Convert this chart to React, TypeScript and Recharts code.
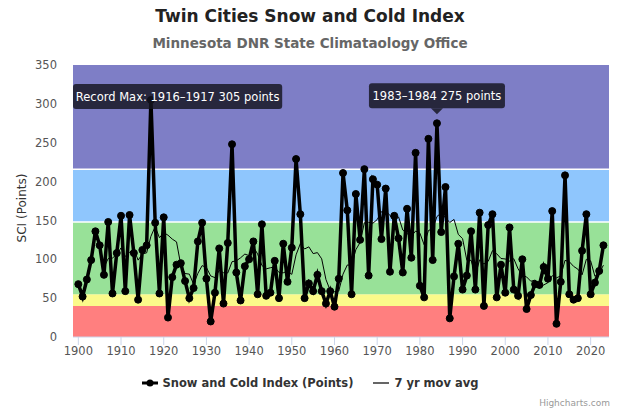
import React from "react";
import {
  ComposedChart,
  Line,
  XAxis,
  YAxis,
  ReferenceArea,
  ReferenceLine,
  ReferenceDot
} from "recharts";

// winter snow and cold index, one value per season (plotted at the ending year), 1900..2023
const sciPoints = [
  68, 52, 74, 99, 136, 118, 80, 148, 56, 108,
  156, 59, 157, 108, 48, 112, 118, 305, 147, 56,
  154, 25, 77, 93, 95, 72, 50, 63, 123, 147,
  75, 20, 57, 114, 43, 121, 248, 83, 47, 91,
  100, 123, 55, 145, 53, 57, 98, 50, 120, 71,
  115, 229, 158, 50, 69, 59, 80, 59, 43, 59,
  39, 75, 211, 163, 55, 184, 125, 216, 79, 203,
  196, 126, 191, 84, 156, 127, 83, 165, 102, 237,
  66, 51, 255, 99, 275, 135, 193, 24, 78, 120,
  61, 79, 136, 61, 160, 40, 144, 158, 51, 93,
  57, 141, 61, 53, 100, 36, 54, 68, 67, 90,
  75, 162, 17, 71, 208, 55, 48, 50, 111, 158,
  55, 70, 85, 118
];

// 7 yr moving average, 1906..2023
const movAvg = [
  89.6, 101.0, 101.6, 106.4,
  114.6, 103.6, 109.1, 113.1, 98.9, 106.9, 108.3, 129.6, 142.1, 127.7,
  134.3, 131.0, 126.0, 122.4, 92.4, 81.7, 80.9, 67.9, 81.9, 91.9,
  89.3, 78.6, 76.4, 85.6, 82.7, 82.4, 96.9, 98.0, 101.9, 106.7,
  104.7, 116.1, 106.7, 92.0, 87.7, 89.1, 90.1, 83.0, 82.6, 84.9,
  80.6, 105.7, 120.1, 113.3, 116.0, 107.3, 108.6, 100.6, 74.0, 59.9,
  58.3, 59.1, 80.9, 92.7, 92.1, 112.3, 121.7, 147.0, 147.6, 146.4,
  151.1, 161.3, 162.3, 156.4, 147.9, 154.7, 137.6, 133.1, 129.7, 136.3,
  133.7, 118.7, 137.0, 139.3, 155.0, 159.7, 153.4, 147.4, 151.3, 132.0,
  126.6, 98.6, 98.7, 79.9, 99.3, 93.9, 97.3, 111.1, 107.1, 101.0,
  100.4, 97.7, 100.7, 87.7, 79.4, 77.3, 71.7, 73.3, 62.7, 66.9,
  70.0, 78.9, 76.1, 78.6, 98.6, 96.9, 90.9, 87.3, 80.0, 100.1,
  97.9, 78.1, 82.4, 92.4
];

const firstYear = 1900;
const movAvgStart = 1906;

const xTicks = [1900, 1910, 1920, 1930, 1940, 1950, 1960, 1970, 1980, 1990, 2000, 2010, 2020];
const yTicks = [0, 50, 100, 150, 200, 250, 300, 350];

// severity bands (lower, upper)
const bandEdges = [0, 40, 55, 148, 216, 350];
const bandColors = ["#ff7f7f", "#fbfa8a", "#98e198", "#8fc6fd", "#7e7ec6"];

const notes = [
  { year: 1917, value: 305, text: "Record Max: 1916\u20131917 305 points" },
  { year: 1984, value: 275, text: "1983\u20131984 275 points" }
];

const data = sciPoints.map((v, i) => {
  const year = firstYear + i;
  const k = year - movAvgStart;
  return { year, sci: v, avg: k >= 0 ? movAvg[k] : null };
});

const FONT = '"Lucida Grande", "Lucida Sans Unicode", "DejaVu Sans", Arial, sans-serif';
const PLOT_LEFT = 73;
const PLOT_TOP = 65;

function NoteLabel(props: any) {
  const { cx, cy, text } = props;
  const w = text.length * 6.1 + 14;
  const h = 25;
  let x = cx - w / 2;
  if (x < PLOT_LEFT) x = PLOT_LEFT;
  let top = cy - h - 15;
  const above = top >= PLOT_TOP;
  if (!above) top = cy - 16;
  const bg = "rgba(20,20,30,0.82)";
  return (
    <g>
      <rect x={x} y={top} width={w} height={h} rx={3} fill={bg} />
      {above && (
        <path d={`M${cx - 6},${top + h} L${cx},${top + h + 6} L${cx + 6},${top + h} Z`} fill={bg} />
      )}
      <text x={x + w / 2} y={top + h / 2 + 4.5} textAnchor="middle" fill="#ffffff" fontSize={11.5} fontFamily={FONT}>
        {text}
      </text>
    </g>
  );
}

export default function App() {
  return (
    <div style={{ position: "absolute", left: 0, top: 0, width: 620, height: 413, background: "#fff", fontFamily: FONT }}>
      <div style={{ position: "absolute", top: 6, width: 620, textAlign: "center", fontSize: 17, fontWeight: "bold", color: "#222" }}>
        Twin Cities Snow and Cold Index
      </div>
      <div style={{ position: "absolute", top: 35, width: 620, textAlign: "center", fontSize: 13.5, fontWeight: "bold", color: "#666" }}>
        Minnesota DNR State Climataology Office
      </div>
      <div
        style={{
          position: "absolute", left: 22, top: 208, transform: "translate(-50%, -50%) rotate(-90deg)",
          fontSize: 12, color: "#333", whiteSpace: "nowrap"
        }}
      >
        SCI (Points)
      </div>

      <ComposedChart width={620} height={413} data={data} margin={{ top: 65, right: 11, bottom: 46, left: 23 }}>
        {bandColors.map((c, i) => (
          <ReferenceArea key={c} y1={bandEdges[i]} y2={bandEdges[i + 1]} fill={c} fillOpacity={1} stroke="none" />
        ))}
        <ReferenceLine y={bandEdges[3]} stroke="#ffffff" strokeWidth={1.5} />
        <ReferenceLine y={bandEdges[4]} stroke="#ffffff" strokeWidth={1.5} />
        <XAxis
          dataKey="year"
          type="number"
          domain={[1898.75, 2024.3]}
          ticks={xTicks}
          allowDataOverflow
          height={30}
          stroke="#ccd6eb"
          tickSize={8}
          tickMargin={2}
          tick={{ fill: "#555", fontSize: 11.5, fontFamily: FONT }}
        />
        <YAxis
          domain={[0, 350]}
          ticks={yTicks}
          width={50}
          axisLine={false}
          tickLine={false}
          tickSize={8}
          tickMargin={8}
          tick={{ fill: "#555", fontSize: 11.5, fontFamily: FONT }}
        />
        <Line
          dataKey="avg"
          stroke="#000"
          strokeWidth={1}
          dot={false}
          connectNulls={false}
          isAnimationActive={false}
        />
        <Line
          dataKey="sci"
          stroke="#000"
          strokeWidth={3.5}
          dot={{ r: 3.5, fill: "#000", stroke: "#000", strokeWidth: 1 }}
          activeDot={false}
          isAnimationActive={false}
        />
        {notes.map((n) => (
          <ReferenceDot
            key={n.year}
            x={n.year}
            y={n.value}
            r={0}
            shape={(p: any) => <NoteLabel {...p} text={n.text} />}
          />
        ))}
      </ComposedChart>

      <div
        style={{
          position: "absolute", top: 376, width: 620, display: "flex", justifyContent: "center",
          alignItems: "center", fontSize: 11.5, fontWeight: "bold", color: "#333"
        }}
      >
        <svg width={16} height={12} style={{ marginRight: 5 }}>
          <line x1={0} y1={6} x2={16} y2={6} stroke="#000" strokeWidth={3} />
          <circle cx={8} cy={6} r={3.5} fill="#000" />
        </svg>
        <span>Snow and Cold Index (Points)</span>
        <svg width={16} height={12} style={{ marginLeft: 20, marginRight: 5 }}>
          <line x1={0} y1={6} x2={16} y2={6} stroke="#000" strokeWidth={1.2} />
        </svg>
        <span>7 yr mov avg</span>
      </div>
      <div style={{ position: "absolute", right: 10, top: 398, fontSize: 9, color: "#999" }}>Highcharts.com</div>
    </div>
  );
}
